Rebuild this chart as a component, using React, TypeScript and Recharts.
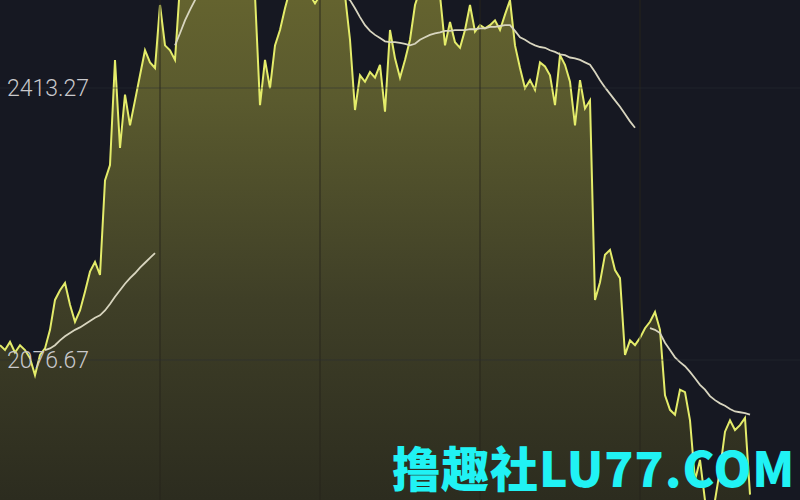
import React from "react";
import {
  ComposedChart,
  Area,
  Line,
  XAxis,
  YAxis,
  ReferenceLine,
} from "recharts";

// price samples, one per step (left to right)
const price: (number | null)[] = [
  2095, 2089, 2099, 2086, 2095, 2089, 2079, 2058, 2083, 2091,
  2114, 2151, 2163, 2172, 2145, 2124, 2138, 2161, 2186, 2198,
  2182, 2299, 2318, 2448, 2339, 2405, 2367, 2398, 2429, 2460,
  2445, 2438, 2516, 2466, 2460, 2448, 2541, 2553, 2559, 2565,
  2559, 2565, 2572, 2565, 2559, 2565, 2559, 2553, 2559, 2553,
  2547, 2528, 2392, 2448, 2413, 2466, 2485, 2512, 2535, 2547,
  2553, 2541, 2528, 2518, 2528, 2547, 2553, 2559, 2547, 2528,
  2473, 2386, 2429, 2421, 2433, 2426, 2442, 2384, 2485, 2450,
  2426, 2448, 2473, 2516, 2535, 2541, 2547, 2541, 2528, 2466,
  2495, 2470, 2463, 2485, 2516, 2483, 2491, 2487, 2491, 2497,
  2485, 2504, 2522, 2466, 2438, 2413, 2423, 2411, 2445, 2440,
  2429, 2392, 2454, 2442, 2421, 2367, 2423, 2388, 2398, 2151,
  2173, 2207, 2213, 2188, 2178, 2083, 2101, 2095, 2104, 2116,
  2124, 2136, 2114, 2033, 2015, 2009, 2040, 2037, 2002, 1928,
  1953, 1903, 1897, 1903, 1941, 1988, 2002, 1990, 1996, 2005,
  1910,
];

// moving average, with gaps where the source shows none
const movingAvg: (number | null)[] = [
  null, null, null, null, null, null, null, null, null, 2089,
  2091, 2095, 2101, 2106, 2110, 2114, 2117, 2121, 2125, 2129,
  2132, 2138, 2146, 2155, 2163, 2171, 2178, 2184, 2191, 2197,
  2203, 2209, null, null, null, 2466, 2481, 2497, 2510, 2522,
  2535, 2545, 2552, 2558, 2563, 2567, 2570, 2572, 2573, 2573,
  2572, 2570, 2567, 2564, 2561, 2558, 2555, 2553, 2551, 2549,
  2547, 2545, 2543, 2541, 2539, 2537, 2535, 2532, 2529, 2526,
  2522, 2512, 2501, 2491, 2484, 2479, 2475, 2471, 2470, 2470,
  2469, 2468, 2466, 2468, 2473, 2476, 2479, 2481, 2482, 2484,
  2484, 2485, 2485, 2485, 2486, 2486, 2487, 2487, 2489, 2489,
  2490, 2491, 2491, 2484, 2476, 2473, 2469, 2466, 2464, 2463,
  2460, 2458, 2455, 2454, 2451, 2450, 2448, 2445, 2442, 2433,
  2423, 2414, 2406, 2398, 2390, 2381, 2372, 2364, null, null,
  2116, 2114, 2110, 2098, 2089, 2080, 2074, 2069, 2062, 2054,
  2046, 2040, 2032, 2027, 2023, 2020, 2016, 2013, 2012, 2011,
  2009,
];

const priceTicks = [2413.27, 2076.67];
const sessionBreaks = [32, 64, 96, 128];
const steps = 160;

const data = price.map((p, i) => ({ i, price: p, ma: movingAvg[i] }));

const PriceLabel = (props: any) => {
  const { viewBox, value } = props;
  return (
    <text
      x={viewBox.x + 7}
      y={viewBox.y}
      dy="0.36em"
      fill="#c9c9cc"
      fontSize={23}
      fontWeight={300}
      fontFamily="Roboto, 'Liberation Sans', sans-serif"
    >
      {value}
    </text>
  );
};

export default function App() {
  return (
    <div
      style={{
        position: "absolute",
        left: 0,
        top: 0,
        width: 800,
        height: 500,
        background: "#161822",
        overflow: "hidden",
      }}
    >
      <ComposedChart
        width={800}
        height={500}
        data={data}
        margin={{ top: 0, right: 0, left: 0, bottom: 0 }}
      >
        <defs>
          <linearGradient
            id="priceFill"
            gradientUnits="userSpaceOnUse"
            x1="0"
            y1="0"
            x2="0"
            y2="500"
          >
            <stop offset="0%" stopColor="#64632f" />
            <stop offset="20%" stopColor="#5a5a2e" />
            <stop offset="60%" stopColor="#3f3f27" />
            <stop offset="100%" stopColor="#2c2c1f" />
          </linearGradient>
        </defs>
        <XAxis dataKey="i" type="number" domain={[0, steps]} hide />
        <YAxis domain={[1903.42, 2522.17]} allowDataOverflow hide />
        <Area
          type="linear"
          dataKey="price"
          stroke="#e4ec6a"
          strokeWidth={2}
          fill="url(#priceFill)"
          fillOpacity={1}
          dot={false}
          activeDot={false}
          isAnimationActive={false}
        />
        {sessionBreaks.map((x) => (
          <ReferenceLine
            key={x}
            x={x}
            stroke="#26251c"
            strokeOpacity={0.6}
            strokeWidth={1.5}
          />
        ))}
        <Line
          type="linear"
          dataKey="ma"
          stroke="#d8d5bf"
          strokeWidth={1.8}
          dot={false}
          activeDot={false}
          isAnimationActive={false}
        />
        {priceTicks.map((y) => (
          <ReferenceLine
            key={y}
            y={y}
            stroke="#2a2b33"
            strokeOpacity={0.5}
            strokeWidth={1}
            label={<PriceLabel value={y.toFixed(2)} />}
          />
        ))}
      </ComposedChart>
      <div
        style={{
          position: "absolute",
          left: 392,
          top: 438,
          width: 404,
          color: "#20f2f4",
          fontFamily: "'Noto Sans CJK SC', sans-serif",
          fontWeight: 900,
          fontSize: 48,
          lineHeight: "56px",
          whiteSpace: "nowrap",
          letterSpacing: 1,
        }}
      >
        撸趣社LU77.COM
      </div>
    </div>
  );
}
